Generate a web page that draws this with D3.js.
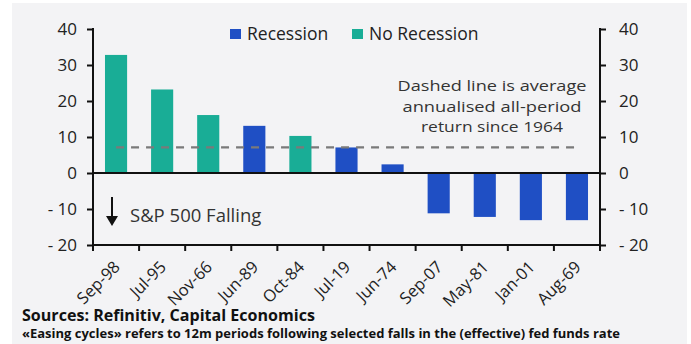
<!DOCTYPE html>
<html><head><meta charset="utf-8">
<script src="https://cdn.jsdelivr.net/npm/d3@7"></script>
<style>body{margin:0;background:#fff}svg{display:block}text{font-family:"Open Sans","Noto Sans",sans-serif}</style>
</head><body><svg id="c" width="691" height="344"></svg>
<script>
const categories = ["Sep-98","Jul-95","Nov-66","Jun-89","Oct-84","Jul-19","Jun-74","Sep-07","May-81","Jan-01","Aug-69"];
const values = [32.8, 23.2, 16.1, 13.1, 10.3, 7.1, 2.4, -11.2, -12.2, -13.1, -13.1];
const recession = [false, false, false, true, false, true, true, true, true, true, true];
const average = 7.1;
const yTicks = [-20, -10, 0, 10, 20, 30, 40];
const seriesNames = ["Recession", "No Recession"];
const colors = {"Recession": "#1f4fc4", "No Recession": "#19ad96"};
const noteLines = ["Dashed line is average", "annualised all-period", "return since 1964"];
const noteWidths = [189, 179, 142];

const svg = d3.select("#c");
svg.append("rect").attr("x",12).attr("y",3).attr("width",675).attr("height",341).attr("fill","#f3f3f5");

const L = 93, R = 600;
const x = d3.scaleBand().domain(categories).range([L, R]).paddingInner(0.52).paddingOuter(0.26);
const y = d3.scaleLinear().domain([-20, 40]).range([245, 29]);

// bars
svg.append("g").selectAll("rect").data(categories).join("rect")
  .attr("x", d => x(d)).attr("width", x.bandwidth())
  .attr("y", (d,i) => y(Math.max(0, values[i])))
  .attr("height", (d,i) => Math.abs(y(values[i]) - y(0)))
  .attr("fill", (d,i) => recession[i] ? colors["Recession"] : colors["No Recession"]);

// average dashed line
svg.append("line")
  .attr("x1", x(categories[0]) + x.bandwidth()/2)
  .attr("x2", x(categories[categories.length-1]) + x.bandwidth()/2)
  .attr("y1", y(average)).attr("y2", y(average))
  .attr("stroke", "#7a7a7a").attr("stroke-width", 2.2).attr("stroke-dasharray", "8,7");

// zero line
svg.append("line").attr("x1", L).attr("x2", R).attr("y1", y(0)).attr("y2", y(0))
  .attr("stroke", "#111").attr("stroke-width", 2);

// left axis
const la = svg.append("g").attr("transform", `translate(${L},0)`)
  .call(d3.axisLeft(y).tickValues(yTicks).tickSize(6).tickPadding(10).tickFormat(d3.format("d")));
// right axis
const ra = svg.append("g").attr("transform", `translate(${R},0)`)
  .call(d3.axisRight(y).tickValues(yTicks).tickSize(6).tickPadding(13).tickFormat(d3.format("d")));
[la, ra].forEach(g => {
  g.select(".domain").attr("stroke", "#111").attr("stroke-width", 2).attr("d", `M0,${y(40)-1}V${y(-20)+1}`);
  g.selectAll(".tick line").attr("stroke", "#111").attr("stroke-width", 2);
  g.selectAll(".tick text").attr("font-size", 17).attr("fill", "#222")
    .text(d => d < 0 ? "- " + Math.abs(d) : d);
});

// bottom axis with ticks at band boundaries
svg.append("line").attr("x1", L).attr("x2", R).attr("y1", y(-20)).attr("y2", y(-20))
  .attr("stroke", "#111").attr("stroke-width", 2);
const bounds = d3.range(categories.length + 1).map(i => L + i * (R - L) / categories.length);
svg.append("g").selectAll("line").data(bounds).join("line")
  .attr("x1", d => d).attr("x2", d => d).attr("y1", y(-20)).attr("y2", y(-20) + 6)
  .attr("stroke", "#111").attr("stroke-width", 2);

// x labels
svg.append("g").selectAll("text").data(categories).join("text")
  .attr("transform", d => `translate(${x(d) + x.bandwidth()/2 + 5},${y(-20) + 23}) rotate(-45)`)
  .attr("text-anchor", "end").attr("font-size", 16.5).attr("fill", "#222").text(d => d);

// legend
const lg = [{n: "Recession", x: 230}, {n: "No Recession", x: 352}];
lg.forEach(o => {
  svg.append("rect").attr("x", o.x).attr("y", 29).attr("width", 11).attr("height", 10).attr("fill", colors[o.n]);
  svg.append("text").attr("x", o.x + 17).attr("y", 40).attr("font-size", 17.5).attr("fill", "#222").text(o.n);
});

// annotation
noteLines.forEach((t, i) => {
  svg.append("text").attr("x", 492).attr("y", 91 + i * 20.7).attr("text-anchor", "middle")
    .attr("font-size", 15).attr("fill", "#333")
    .attr("textLength", noteWidths[i]).attr("lengthAdjust", "spacingAndGlyphs").text(t);
});

// S&P 500 falling
svg.append("line").attr("x1", 112).attr("x2", 112).attr("y1", 197).attr("y2", 218)
  .attr("stroke", "#111").attr("stroke-width", 2);
svg.append("path").attr("d", "M106,216 L118,216 L112,226 Z").attr("fill", "#111");
svg.append("text").attr("x", 130).attr("y", 222).attr("font-size", 18.5).attr("fill", "#333").text("S&P 500 Falling");

// footnotes
svg.append("text").attr("x", 22).attr("y", 321).attr("font-size", 16).attr("font-weight", "bold")
  .attr("fill", "#111").attr("textLength", 293).attr("lengthAdjust", "spacingAndGlyphs")
  .text("Sources: Refinitiv, Capital Economics");
svg.append("text").attr("x", 22).attr("y", 338).attr("font-size", 12.5).attr("font-weight", "bold")
  .attr("fill", "#111").attr("textLength", 598).attr("lengthAdjust", "spacingAndGlyphs")
  .text("«Easing cycles» refers to 12m periods following selected falls in the (effective) fed funds rate");
</script></body></html>
